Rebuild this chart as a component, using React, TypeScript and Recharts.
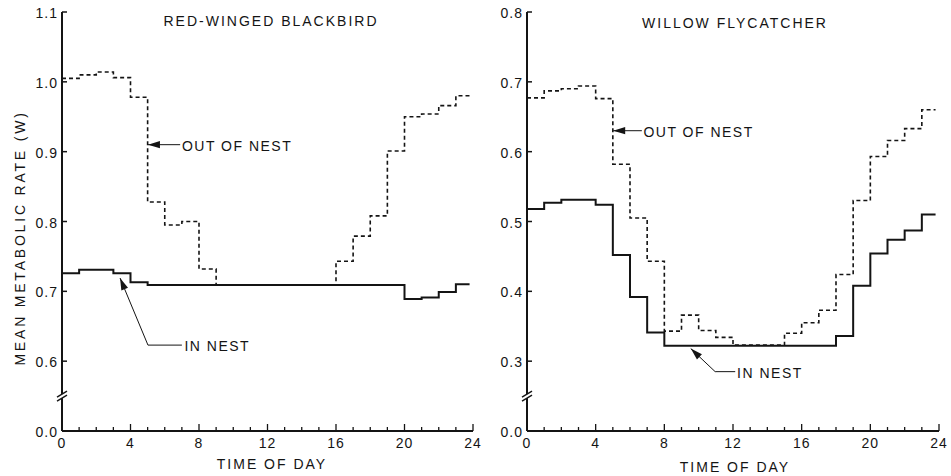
import React from 'react';
import { LineChart, Line, XAxis, YAxis, ReferenceLine, ReferenceDot } from 'recharts';

// ---------- data ----------
const hours = [0, 1, 2, 3, 4, 5, 6, 7, 8, 9, 10, 11, 12, 13, 14, 15, 16, 17, 18, 19, 20, 21, 22, 23];
const endHour = 23.8;
const xTicks = [0, 1, 2, 3, 4, 5, 6, 7, 8, 9, 10, 11, 12, 13, 14, 15, 16, 17, 18, 19, 20, 21, 22, 23, 24];

// Red-winged blackbird (W)
const rwbOutOfNest = [1.005, 1.010, 1.014, 1.006, 0.978, 0.828, 0.795, 0.800, 0.732, 0.709, 0.709, 0.709, 0.709, 0.709, 0.709, 0.709, 0.743, 0.779, 0.808, 0.901, 0.950, 0.954, 0.966, 0.980];
const rwbInNest = [0.726, 0.731, 0.731, 0.726, 0.713, 0.709, 0.709, 0.709, 0.709, 0.709, 0.709, 0.709, 0.709, 0.709, 0.709, 0.709, 0.709, 0.709, 0.709, 0.709, 0.689, 0.691, 0.699, 0.710];
const rwbYTicks = [0.5, 0.6, 0.7, 0.8, 0.9, 1.0, 1.1];
const rwbYLabels = ['0.0', '0.6', '0.7', '0.8', '0.9', '1.0', '1.1'];

// Willow flycatcher (W)
const wfOutOfNest = [0.677, 0.687, 0.690, 0.694, 0.676, 0.582, 0.505, 0.443, 0.343, 0.366, 0.344, 0.334, 0.323, 0.323, 0.323, 0.340, 0.355, 0.373, 0.424, 0.530, 0.593, 0.616, 0.633, 0.660];
const wfInNest = [0.518, 0.527, 0.531, 0.531, 0.524, 0.452, 0.392, 0.341, 0.322, 0.322, 0.322, 0.322, 0.322, 0.322, 0.322, 0.322, 0.322, 0.322, 0.336, 0.408, 0.454, 0.474, 0.487, 0.510];
const wfYTicks = [0.2, 0.3, 0.4, 0.5, 0.6, 0.7, 0.8];
const wfYLabels = ['0.0', '0.3', '0.4', '0.5', '0.6', '0.7', '0.8'];

const buildRows = (outArr: number[], inArr: number[]) => {
  const rows = hours.map((h, i) => ({ h, out: outArr[i], inNest: inArr[i] }));
  rows.push({ h: endHour, out: outArr[outArr.length - 1], inNest: inArr[inArr.length - 1] });
  return rows;
};

const rwbRows = buildRows(rwbOutOfNest, rwbInNest);
const wfRows = buildRows(wfOutOfNest, wfInNest);

// ---------- styling ----------
const INK = '#141414';
const FONT = '"Liberation Sans", Arial, Helvetica, sans-serif';

const makeYTick = (values: number[], labels: string[]) => (props: any) => {
  const { x, y, payload } = props;
  const idx = values.findIndex((v) => Math.abs(v - payload.value) < 1e-6);
  const label = idx >= 0 ? labels[idx] : '';
  return (
    <g>
      <line x1={x} x2={x + 5} y1={y} y2={y} stroke={INK} strokeWidth={1.5} />
      <text x={x - 4} y={y + 1} textAnchor="end" dominantBaseline="central" fontSize={14} fontFamily={FONT} letterSpacing={1} fill={INK}>
        {label}
      </text>
    </g>
  );
};

const XTick = (props: any) => {
  const { x, y, payload } = props;
  const v = payload.value as number;
  const major = v % 4 === 0;
  return (
    <g>
      <line x1={x} x2={x} y1={y} y2={y - (major ? 7 : 4)} stroke={INK} strokeWidth={1.3} />
      {major ? (
        <text x={x} y={y + 12} textAnchor="middle" dominantBaseline="central" fontSize={14} fontFamily={FONT} letterSpacing={1} fill={INK}>
          {String(v)}
        </text>
      ) : null}
    </g>
  );
};

const BreakMark = (props: any) => {
  const { cx, cy } = props;
  return (
    <g>
      <rect x={cx - 3} y={cy - 2} width={6} height={4} fill="#fff" />
      <line x1={cx - 5} y1={cy + 1} x2={cx + 5} y2={cy - 5} stroke={INK} strokeWidth={1.4} />
      <line x1={cx - 5} y1={cy + 5} x2={cx + 5} y2={cy - 1} stroke={INK} strokeWidth={1.4} />
    </g>
  );
};

const makeArrowHead = (dx: number, dy: number) => (props: any) => {
  const { cx, cy } = props;
  const len = 12;
  const hw = 3.6;
  const n = Math.sqrt(dx * dx + dy * dy);
  const ux = dx / n;
  const uy = dy / n;
  const bx = cx + ux * len;
  const by = cy + uy * len;
  const px = -uy * hw;
  const py = ux * hw;
  return <path d={`M${cx},${cy} L${bx + px},${by + py} L${bx - px},${by - py} Z`} fill={INK} />;
};

const makeLabel = (text: string) => (props: any) => {
  const { cx, cy } = props;
  return (
    <text x={cx} y={cy + 1} textAnchor="start" dominantBaseline="central" fontSize={14} fontFamily={FONT} letterSpacing={1.5} fill={INK}>
      {text}
    </text>
  );
};

type Ann = {
  tip: [number, number];
  path: [number, number][];
  head: [number, number];
  text: string;
  textAt: [number, number];
};

const renderAnnotation = (a: Ann, key: string) => {
  const pts = [a.tip, ...a.path];
  const segs = [];
  for (let i = 0; i < pts.length - 1; i++) {
    segs.push(
      <ReferenceLine
        key={`${key}-s${i}`}
        segment={[{ x: pts[i][0], y: pts[i][1] }, { x: pts[i + 1][0], y: pts[i + 1][1] }]}
        stroke={INK}
        strokeWidth={1}
        ifOverflow="visible"
      />
    );
  }
  segs.push(
    <ReferenceDot key={`${key}-h`} x={a.tip[0]} y={a.tip[1]} r={1} ifOverflow="visible" shape={makeArrowHead(a.head[0], a.head[1])} />
  );
  segs.push(
    <ReferenceDot key={`${key}-t`} x={a.textAt[0]} y={a.textAt[1]} r={1} ifOverflow="visible" shape={makeLabel(a.text)} />
  );
  return segs;
};

const rwbAnnotations: Ann[] = [
  { tip: [5.02, 0.910], path: [[6.9, 0.910]], head: [1, 0], text: 'OUT OF NEST', textAt: [7.0, 0.910] },
  { tip: [3.39, 0.719], path: [[5.02, 0.623], [7.0, 0.623]], head: [28, 67], text: 'IN NEST', textAt: [7.15, 0.623] },
];

const wfAnnotations: Ann[] = [
  { tip: [5.02, 0.630], path: [[6.69, 0.630]], head: [1, 0], text: 'OUT OF NEST', textAt: [6.78, 0.630] },
  { tip: [9.54, 0.318], path: [[10.96, 0.285], [12.13, 0.285]], head: [24, 23], text: 'IN NEST', textAt: [12.24, 0.285] },
];

type PanelProps = {
  rows: any[];
  yDomain: [number, number];
  yTicks: number[];
  yLabels: string[];
  breakAt: number;
  annotations: Ann[];
  width: number;
  margin: { top: number; right: number; bottom: number; left: number };
};

const Panel = ({ rows, yDomain, yTicks, yLabels, breakAt, annotations, width, margin }: PanelProps) => (
  <LineChart width={width} height={476} data={rows} margin={margin} style={{ overflow: 'visible' }}>
    <XAxis
      type="number"
      dataKey="h"
      domain={[0, 24]}
      ticks={xTicks}
      interval={0}
      tickSize={0}
      tickMargin={0}
      tickLine={false}
      axisLine={{ stroke: INK, strokeWidth: 2 }}
      tick={XTick}
      height={30}
    />
    <YAxis
      type="number"
      domain={yDomain}
      ticks={yTicks}
      interval={0}
      tickSize={0}
      tickMargin={0}
      tickLine={false}
      axisLine={{ stroke: INK, strokeWidth: 2 }}
      tick={makeYTick(yTicks, yLabels)}
      width={40}
      allowDataOverflow
    />
    <Line type="stepAfter" dataKey="out" stroke={INK} strokeWidth={1.6} strokeDasharray="4 3" dot={false} activeDot={false} isAnimationActive={false} />
    <Line type="stepAfter" dataKey="inNest" stroke={INK} strokeWidth={2} dot={false} activeDot={false} isAnimationActive={false} />
    <ReferenceDot x={0} y={breakAt} r={1} ifOverflow="visible" shape={BreakMark} />
    {annotations.map((a, i) => renderAnnotation(a, `a${i}`))}
  </LineChart>
);

export default function App() {
  const textProps = { fontFamily: FONT, fill: INK, fontSize: 14 } as const;
  return (
    <div style={{ position: 'absolute', left: 0, top: 0, width: 951, height: 476, background: '#fff' }}>
      <div style={{ position: 'absolute', left: 0, top: 0 }}>
        <Panel
          rows={rwbRows}
          yDomain={[0.5, 1.1]}
          yTicks={rwbYTicks}
          yLabels={rwbYLabels}
          breakAt={0.55}
          annotations={rwbAnnotations}
          width={492}
          margin={{ top: 12, right: 19, bottom: 15, left: 22 }}
        />
      </div>
      <div style={{ position: 'absolute', left: 476, top: 0 }}>
        <Panel
          rows={wfRows}
          yDomain={[0.2, 0.8]}
          yTicks={wfYTicks}
          yLabels={wfYLabels}
          breakAt={0.25}
          annotations={wfAnnotations}
          width={475}
          margin={{ top: 12, right: 12, bottom: 15, left: 11 }}
        />
      </div>
      <svg width={951} height={476} style={{ position: 'absolute', left: 0, top: 0, pointerEvents: 'none' }}>
        <text x={271} y={21} textAnchor="middle" dominantBaseline="central" letterSpacing={2} {...textProps}>
          RED-WINGED BLACKBIRD
        </text>
        <text x={735} y={23} textAnchor="middle" dominantBaseline="central" letterSpacing={2} {...textProps}>
          WILLOW FLYCATCHER
        </text>
        <text x={272} y={464} textAnchor="middle" dominantBaseline="central" letterSpacing={2} {...textProps}>
          TIME OF DAY
        </text>
        <text x={735} y={467} textAnchor="middle" dominantBaseline="central" letterSpacing={2} {...textProps}>
          TIME OF DAY
        </text>
        <text
          x={20}
          y={238}
          textAnchor="middle"
          dominantBaseline="central"
          letterSpacing={2.8}
          transform="rotate(-90 20 238)"
          {...textProps}
        >
          MEAN METABOLIC RATE (W)
        </text>
      </svg>
    </div>
  );
}
